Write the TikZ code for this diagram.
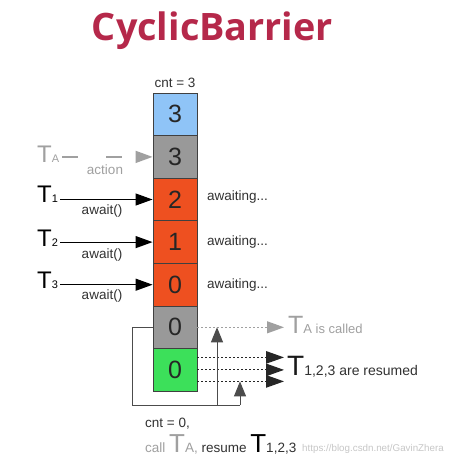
\documentclass[tikz,border=0pt]{standalone}
\usepackage{fontspec}
\setmainfont{Liberation Sans}
\newfontfamily\titlefont{Open Sans}
\usetikzlibrary{arrows.meta}
\definecolor{titlered}{RGB}{181,40,74}
\definecolor{cblue}{RGB}{143,196,247}
\definecolor{cgray}{RGB}{153,153,153}
\definecolor{corange}{RGB}{238,80,32}
\definecolor{cgreen}{RGB}{60,224,90}
\definecolor{lgray}{RGB}{160,160,160}
\definecolor{dtext}{RGB}{50,50,50}
\newcommand\Tsub[3]{{\fontsize{#1}{#1}\selectfont T}{\fontsize{#2}{#2}\selectfont #3}}
\tikzset{
  cell/.style={draw=black!75, line width=0.9pt, minimum width=44pt, minimum height=42.6pt,
    inner sep=0pt, font=\fontsize{25}{25}\selectfont, text=black!85},
  lbl/.style={inner sep=0pt, font=\fontsize{13.5}{13.5}\selectfont, text=dtext},
  tlbl/.style={inner sep=0pt, anchor=base west, text=black},
  blkarrow/.style={line width=1.2pt, -{Triangle[length=17pt,width=12pt]}},
  grayarrow/.style={line width=1.5pt, lgray, dash pattern=on 16pt off 28pt,
    -{Triangle[length=17pt,width=12pt,sep=0pt]}},
  dotgray/.style={line width=1pt, lgray, dash pattern=on 2pt off 2pt,
    -{Triangle[length=17pt,width=12pt]}},
  dotblk/.style={line width=1.1pt, black!85, dash pattern=on 2pt off 2pt,
    -{Triangle[length=18pt,width=12.5pt]}},
  loopline/.style={line width=1pt, black!70},
  uparrow/.style={line width=1pt, black!70, -{Triangle[length=15pt,width=12pt]}}
}
\begin{document}
\begin{tikzpicture}[x=1pt,y=-1pt]
\useasboundingbox (0,0) rectangle (458,466);
\fill[white] (0,0) rectangle (458,466);

% title
\node[inner sep=0pt, text=titlered] (title) at (212.5,31)
  {\resizebox{241pt}{!}{\titlefont\bfseries CyclicBarrier}};

% column
\node[cell, fill=cblue]   (b1) at (175,114.3) {3};
\node[cell, fill=cgray]   (b2) at (175,156.9) {3};
\node[cell, fill=corange] (b3) at (175,199.5) {2};
\node[cell, fill=corange] (b4) at (175,242.1) {1};
\node[cell, fill=corange] (b5) at (175,284.7) {0};
\node[cell, fill=cgray]   (b6) at (175,327.3) {0};
\node[cell, fill=cgreen]  (b7) at (175,369.9) {0};

\node[lbl] (cnt3) at (175,83) {cnt = 3};

% left threads
\node[tlbl, text=lgray] (TA) at (37,162) {\Tsub{24}{11}{A}};
\node[tlbl] (T1) at (37,202) {\Tsub{24}{11}{1}};
\node[tlbl] (T2) at (37,246) {\Tsub{24}{11}{2}};
\node[tlbl] (T3) at (37,288) {\Tsub{24}{11}{3}};

\draw[grayarrow] ([xshift=3pt]TA.east |- b2.west) -- (b2.west);
\draw[blkarrow] ([xshift=2pt]T1.east |- b3.west) -- (b3.west);
\draw[blkarrow] ([xshift=2pt]T2.east |- b4.west) -- (b4.west);
\draw[blkarrow] ([xshift=2pt]T3.east |- b5.west) -- (b5.west);

\node[lbl, text=lgray] (act) at (105,170) {action};
\node[lbl] (aw1) at (102,211) {await()};
\node[lbl] (aw2) at (102,255) {await()};
\node[lbl] (aw3) at (102,296) {await()};

\node[lbl, anchor=west] (w1) at (207,197) {awaiting...};
\node[lbl, anchor=west] (w2) at (207,242) {awaiting...};
\node[lbl, anchor=west] (w3) at (207,285) {awaiting...};

% right side
\coordinate (tipx) at (284,0);
\coordinate (g1) at ([yshift=12.5pt]b7.east);
\coordinate (g2) at (b7.east);
\coordinate (g3) at ([yshift=-11.5pt]b7.east);
\draw[dotgray] (b6.east) -- (b6.east -| tipx);
\draw[dotblk] (g1) -- (g1 -| tipx);
\draw[dotblk] (g2) -- (g2 -| tipx);
\draw[dotblk] (g3) -- (g3 -| tipx);

\node[tlbl, text=lgray] (Tcalled) at (288,333)
  {{\fontsize{25}{25}\selectfont T}{\fontsize{13}{13}\selectfont A is called}};
\node[tlbl, text=dtext] (Tres) at (287,375)
  {{\fontsize{28}{28}\selectfont\color{black!90}T}{\fontsize{14}{14}\selectfont 1,2,3 are resumed}};

% loop back
\coordinate (lc) at (132,405);
\coordinate (rc) at (240,405);
\coordinate (mc) at (217,405);
\draw[loopline] (b6.west) -| (lc) -- (rc);
\draw[uparrow] (rc) -- (rc |- g3);
\draw[uparrow] (mc) -- (mc |- b6.east);

% bottom text
\node[lbl, anchor=base west] (cnt0) at (145,427) {cnt = 0,};
\node[tlbl] (callT) at (145,452)
  {{\fontsize{13.5}{13.5}\selectfont\color{lgray}call }{\fontsize{26}{26}\selectfont\color{lgray}T}{\fontsize{13.5}{13.5}\selectfont\color{lgray}A, \color{dtext}resume }{\fontsize{26}{26}\selectfont T}{\fontsize{13.5}{13.5}\selectfont\color{dtext}1,2,3}};

% watermark
\node[inner sep=0pt, anchor=base west, text=black!22, font=\fontsize{9.8}{9.8}\selectfont] (wm) at (302,451) {https://blog.csdn.net/GavinZhera};
\end{tikzpicture}
\end{document}
